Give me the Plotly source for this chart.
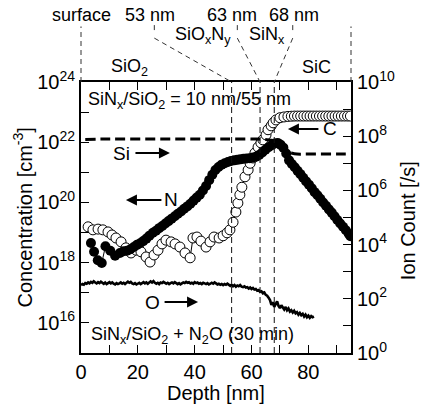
import plotly.graph_objects as go

# ---- depth profile data ----
# N (SIMS, concentration, left axis)
n_depth = [3.5, 4.6, 5.9, 7.3, 8.6, 10.3, 12.0, 13.7, 15.0, 16.2, 17.4, 18.6, 19.7, 20.8,
           21.9, 23.0, 24.1, 25.3, 26.4, 27.5, 28.6, 29.7, 30.8, 31.9, 33.0, 34.1, 35.2,
           36.3, 37.4, 38.5, 39.6, 40.7, 41.8, 42.9, 44.0, 45.1, 46.2, 47.3, 48.4, 49.5,
           50.6, 51.7, 52.8, 53.9, 55.0, 56.1, 57.2, 58.3, 59.4, 60.5, 61.6, 62.7, 63.8,
           64.9, 66.0, 67.1, 68.2, 69.2, 70.2, 71.2, 72.2, 73.2, 74.2, 75.2, 76.2, 77.2,
           78.2, 79.2, 80.2, 81.2, 82.2, 83.2, 84.2, 85.2, 86.2, 87.2, 88.2, 89.2, 90.2,
           91.2, 92.2, 93.2, 94.2, 94.8]
n_conc = [4.5e18, 2.3e18, 1.2e18, 9.8e17, 3.5e18, 2.5e18, 1.7e18, 2.1e18, 2.4e18, 2.5e18,
          2.8e18, 3.3e18, 3.9e18, 4.4e18, 5.2e18, 6.3e18, 7.9e18, 9.8e18, 1.15e19, 1.4e19,
          1.66e19, 2.0e19, 2.4e19, 2.9e19, 3.5e19, 4.2e19, 5.0e19, 6.2e19, 7.4e19, 9.1e19,
          1.15e20, 1.45e20, 1.8e20, 2.5e20, 3.5e20, 5.5e20, 8.3e20, 1.2e21, 1.5e21, 1.8e21,
          2.0e21, 2.2e21, 2.4e21, 2.5e21, 2.6e21, 2.7e21, 2.8e21, 2.9e21, 2.95e21, 3.1e21,
          3.3e21, 3.8e21, 4.6e21, 5.6e21, 6.8e21, 7.9e21, 9.1e21, 9.5e21, 8.3e21, 6.6e21,
          4.2e21, 2.5e21, 1.9e21, 1.48e21, 1.12e21, 8.7e20, 6.6e20, 5.0e20, 3.9e20, 2.95e20,
          2.2e20, 1.74e20, 1.32e20, 1.0e20, 7.8e19, 5.9e19, 4.6e19, 3.5e19, 2.6e19, 2.0e19,
          1.55e19, 1.2e19, 9.1e18, 7.6e18]

# C (SIMS, concentration, left axis)
c_depth = [2.5, 4.2, 6.0, 7.7, 9.5, 10.9, 12.3, 14.1, 15.8, 17.6, 19.4, 21.1, 22.9, 24.3,
           25.7, 27.1, 28.5, 29.9, 31.7, 33.1, 34.8, 36.6, 38.4, 39.4, 40.8, 42.2, 44.0,
           45.4, 46.8, 48.6, 50.0, 51.4, 52.4, 53.5, 54.5, 55.2, 55.9, 56.6, 57.7, 58.8,
           59.5, 60.5, 61.2, 62.3, 63.3, 64.0, 65.1, 65.8, 66.9, 67.6, 68.6, 70.0, 71.4,
           72.8, 74.0, 75.1, 76.2, 77.3, 78.4, 79.5, 80.6, 81.7, 82.8, 83.9, 85.0, 86.1,
           87.2, 88.3, 89.4, 90.5, 91.6, 92.7, 93.8, 94.8]
c_conc = [1.55e19, 1.23e19, 1.3e19, 1.23e19, 1.05e19, 8.3e18, 6.6e18, 4.9e18, 3.1e18, 2.1e18,
          2.6e18, 2.3e18, 1.55e18, 1.05e18, 1.8e18, 2.6e18, 4.2e18, 5.6e18, 4.9e18, 4.2e18,
          3.3e18, 2.1e18, 1.45e18, 6.6e18, 7.1e18, 5.2e18, 3.3e18, 4.9e18, 7.1e18, 6.6e18,
          7.8e18, 9.8e18, 1.23e19, 2.2e19, 4.8e19, 9.5e19, 1.8e20, 3.2e20, 7.1e20, 1.2e21,
          2.0e21, 3.0e21, 4.4e21, 6.9e21, 9.5e21, 1.2e22, 1.75e22, 2.6e22, 3.5e22, 4.4e22,
          5.5e22, 6.5e22, 6.9e22, 7.2e22, 7.3e22, 7.4e22, 7.4e22, 7.4e22, 7.4e22, 7.4e22,
          7.4e22, 7.4e22, 7.4e22, 7.4e22, 7.4e22, 7.4e22, 7.4e22, 7.4e22, 7.4e22, 7.4e22,
          7.4e22, 7.4e22, 7.4e22, 7.4e22]

# Si (ion count, right axis)
si_depth = [1.5, 10, 20, 30, 40, 50, 60, 62, 64, 66, 68, 70, 72, 74, 76, 80, 90, 95]
si_counts = [7.6e7, 7.9e7, 7.9e7, 7.9e7, 7.9e7, 7.9e7, 7.9e7, 7.8e7, 7.6e7, 7.3e7, 6.5e7,
             4.2e7, 2.8e7, 2.4e7, 2.2e7, 2.2e7, 2.2e7, 2.2e7]

# O (ion count, right axis), sampled every 0.5 nm from the surface
O_STEP = 0.5
o_counts = [320, 350, 330, 380, 360, 400, 370, 420, 390, 440,
            400, 370, 410, 380, 430, 390, 360, 400, 350, 380,
            410, 370, 400, 360, 340, 380, 350, 370, 400, 360,
            390, 350, 400, 430, 390, 420, 370, 350, 380, 340,
            360, 390, 350, 380, 410, 370, 400, 360, 410, 440,
            400, 450, 390, 360, 390, 350, 400, 380, 420, 390,
            360, 390, 350, 380, 400, 370, 410, 380, 350, 380,
            340, 370, 400, 380, 420, 390, 410, 370, 390, 360,
            410, 380, 400, 360, 380, 350, 390, 370, 350, 380,
            340, 360, 390, 360, 400, 370, 340, 360, 330, 350,
            320, 350, 330, 360, 320, 300, 330, 290, 320, 280,
            310, 290, 320, 280, 270, 290, 260, 270, 240, 260,
            230, 250, 220, 230, 200, 210, 180, 190, 160, 170,
            140, 130, 110, 90, 60, 75, 50, 65, 80, 55,
            45, 58, 48, 40, 50, 38, 44, 34, 38, 31,
            36, 29, 32, 26, 30, 25, 28, 22, 26, 21,
            24, 20, 23, 21, 22]
o_depth = [i * O_STEP for i in range(len(o_counts))]

# layer boundaries (nm) and axis ticks
boundaries = [53, 63, 68]
boundary_labels = ["53 nm", "63 nm", "68 nm"]
boundary_label_x = [24.3, 53.2, 75.0]
boundary_guide_x = [25.8, 55.0, 74.5]
X_MAX = 95
x_ticks = list(range(0, 100, 10))
x_ticktext = [str(v) if v % 20 == 0 else "" for v in x_ticks]
left_exps = list(range(15, 25))
left_ticktext = [f"10<sup>{e}</sup>" if e % 2 == 0 else "" for e in left_exps]
right_exps = list(range(0, 11))
right_ticktext = [f"10<sup>{e}</sup>" if e % 2 == 0 else "" for e in right_exps]

FONT = "Arial, Liberation Sans, Helvetica, sans-serif"

fig = go.Figure()
fig.add_trace(go.Scatter(x=si_depth, y=si_counts, yaxis="y2", mode="lines",
                         line=dict(color="black", width=3, dash="10px,5px"),
                         line_shape="spline", showlegend=False))
fig.add_trace(go.Scatter(x=o_depth, y=o_counts, yaxis="y2", mode="lines",
                         line=dict(color="black", width=2.6), showlegend=False))
fig.add_trace(go.Scatter(x=c_depth, y=c_conc, mode="lines+markers",
                         line=dict(color="black", width=1),
                         marker=dict(symbol="circle", size=10, color="white",
                                     line=dict(color="black", width=1)),
                         showlegend=False))
fig.add_trace(go.Scatter(x=n_depth, y=n_conc, mode="lines+markers",
                         line=dict(color="black", width=1),
                         marker=dict(symbol="circle", size=10, color="black"),
                         showlegend=False))

axis_common = dict(showgrid=False, zeroline=False, showline=True, linecolor="black",
                   linewidth=2, ticks="inside", ticklen=8, tickwidth=1.2,
                   tickcolor="black", tickfont=dict(family=FONT, size=20, color="black"))

fig.update_layout(
    width=422, height=410,
    margin=dict(l=81, r=71, t=82, b=57),
    paper_bgcolor="white", plot_bgcolor="white",
    font=dict(family=FONT, color="black"),
    xaxis=dict(range=[0, X_MAX], tickmode="array", tickvals=x_ticks,
               ticktext=x_ticktext, mirror="ticks", **axis_common),
    yaxis=dict(type="log", range=[15, 24], tickmode="array",
               tickvals=[10.0 ** e for e in left_exps], ticktext=left_ticktext,
               **axis_common),
    yaxis2=dict(type="log", range=[0, 10], overlaying="y", side="right",
                tickmode="array", tickvals=[10.0 ** e for e in right_exps],
                ticktext=right_ticktext, **axis_common),
)

# interface markers inside the plot
for b in boundaries:
    fig.add_shape(type="line", xref="x", yref="paper", x0=b, x1=b, y0=0, y1=1,
                  line=dict(color="#111", width=1, dash="6px,4px"))

# layer guides above the plot
guide = dict(color="#333", width=1, dash="5px,4px")
for px in (0, 1):
    fig.add_shape(type="line", xref="paper", yref="paper", x0=px, x1=px,
                  y0=1.0, y1=1.205, line=guide)
for b, gx in zip(boundaries, boundary_guide_x):
    fig.add_shape(type="line", xref="paper", yref="paper", x0=gx / X_MAX, x1=gx / X_MAX,
                  y0=1.21, y1=1.18, line=guide)
    fig.add_shape(type="line", xref="paper", yref="paper", x0=gx / X_MAX, x1=b / X_MAX,
                  y0=1.162, y1=1.0, line=guide)

ann_font = dict(family=FONT, size=18, color="black")
top_labels = [("surface", 0.3, 1.247), (boundary_labels[0], boundary_label_x[0], 1.247),
              (boundary_labels[1], boundary_label_x[1], 1.247),
              (boundary_labels[2], boundary_label_x[2], 1.247),
              ("SiO<sub>x</sub>N<sub>y</sub>", 43.0, 1.17),
              ("SiN<sub>x</sub>", 65.5, 1.17),
              ("SiO<sub>2</sub>", 16.9, 1.055), ("SiC", 82.7, 1.055)]
for text, x, y in top_labels:
    fig.add_annotation(text=text, x=x, y=y, xref="x", yref="paper", showarrow=False,
                       xanchor="center", yanchor="middle", font=ann_font)

fig.add_annotation(text="SiN<sub>x</sub>/SiO<sub>2</sub> = 10 nm/55 nm", x=0.02, y=0.93,
                   xref="paper", yref="paper", xanchor="left", yanchor="middle",
                   showarrow=False, font=ann_font)
fig.add_annotation(text="SiN<sub>x</sub>/SiO<sub>2</sub> + N<sub>2</sub>O (30 min)",
                   x=0.031, y=0.066, xref="paper", yref="paper", xanchor="left",
                   yanchor="middle", showarrow=False, font=ann_font)

# species labels with arrows pointing to their axis
lab_font = dict(family=FONT, size=19, color="black")
species = [("Si", 14.1, 0.738, 31.3, -36), ("N", 31.7, 0.565, 15.8, 37),
           ("O", 25.3, 0.188, 41.2, -35), ("C", 87.6, 0.827, 72.8, 32)]
for name, tx, ty, tip, off in species:
    fig.add_annotation(text=name, x=tx, y=ty, xref="x", yref="paper", showarrow=False,
                       xanchor="center", yanchor="middle", font=lab_font)
    fig.add_annotation(text="", x=tip, y=ty, xref="x", yref="paper", showarrow=True,
                       ax=off, ay=0, arrowhead=2, arrowsize=1.1, arrowwidth=2,
                       arrowcolor="black")

# axis titles
title_font = dict(family=FONT, size=20, color="black")
fig.add_annotation(text="Concentration [cm<sup>-3</sup>]", x=-0.215, y=0.5, xref="paper",
                   yref="paper", textangle=-90, showarrow=False, font=title_font,
                   xanchor="center", yanchor="middle")
fig.add_annotation(text="Ion Count [/s]", x=1.211, y=0.49, xref="paper", yref="paper",
                   textangle=-90, showarrow=False, font=title_font,
                   xanchor="center", yanchor="middle")
fig.add_annotation(text="Depth [nm]", x=0.5, y=-0.148, xref="paper", yref="paper",
                   showarrow=False, font=title_font, xanchor="center", yanchor="middle")

fig.write_html("out.html")
